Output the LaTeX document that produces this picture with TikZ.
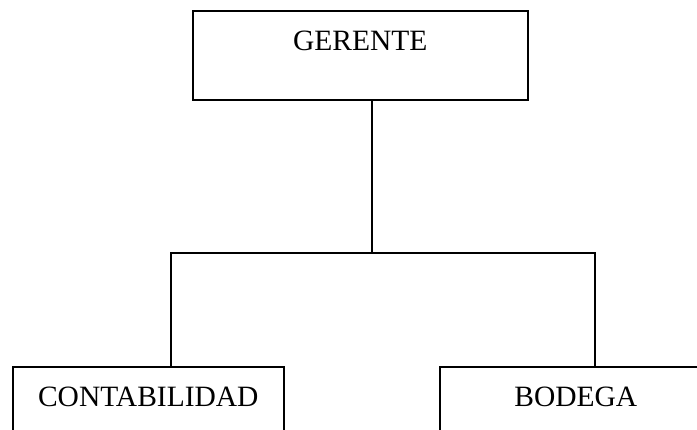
\documentclass[tikz,border=0pt]{standalone}
\usepackage{fontspec}
\setmainfont{Liberation Serif}
\usepackage{tikz}
\usetikzlibrary{positioning}

\begin{document}
\begin{tikzpicture}[
            x = 1pt, y = -1pt, % one unit per pixel
            line width = 1.6pt, % line style
            font = \fontsize{29.5}{34}\selectfont
        ]

        \tikzstyle{every node}=[
            draw,
            line width = 1.6pt,
            inner sep = 0pt,
            text height = 40pt,
            text depth = 49pt,
            anchor = north west
        ]

        % page
        \clip (0,0) rectangle (697,430);
        \useasboundingbox (0,0) rectangle (697,430);

        % top level
        \node (G) at (192,10) [minimum width = 335pt] {GERENTE};

        % lower level
        \node (C) at (12,366) [minimum width = 271pt] {CONTABILIDAD};
        \node (B) at (439,366) [minimum width = 272pt] {BODEGA};

        % branch points
        \coordinate (M) at (372,253);
        \coordinate (L) at (171,253);
        \coordinate (R) at (595,253);

        \draw (G.south -| M) -- (M);
        \draw (L |- C.north) -- (L) -- (R) -- (R |- B.north);

  \end{tikzpicture}
\end{document}
